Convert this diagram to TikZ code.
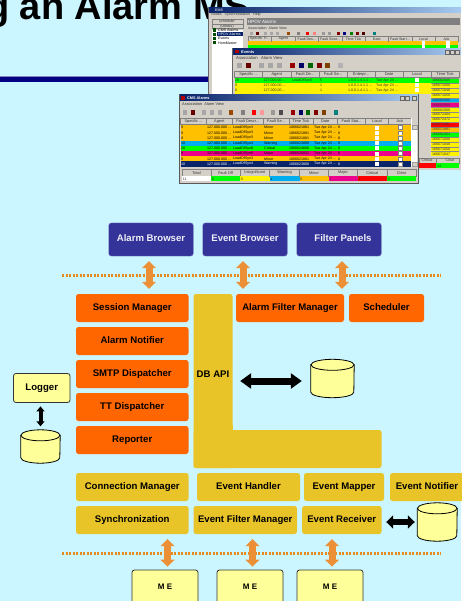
\documentclass[tikz,border=0pt]{standalone}
\usepackage{fontspec}
\setmainfont{Liberation Sans}
\usetikzlibrary{arrows.meta}

\definecolor{slidebg}{HTML}{CCF6FF}
\definecolor{navybox}{HTML}{333399}
\definecolor{orangebox}{HTML}{FF6600}
\definecolor{goldbox}{HTML}{E8C428}
\definecolor{paleyellow}{HTML}{FFFF99}
\definecolor{arroworange}{HTML}{EC9038}
\definecolor{dotorange}{HTML}{E58A1E}
\definecolor{wingray}{HTML}{D4D0C8}
\definecolor{winblue}{HTML}{0A246A}
\definecolor{winlight}{HTML}{A6CAF0}
\definecolor{roworange}{HTML}{FFC000}
\newcommand{\cutoff}{.{}.{}.}
\newcommand{\drawstore}[2]{
	\draw[storeline] ([yshift=-5.5pt]#1.north west) -- ([yshift=5.5pt]#1.south west) arc[start angle=180, end angle=360, x radius=#2pt, y radius=5.5pt] -- ([yshift=-5.5pt]#1.north east) -- cycle;
	\draw[storeline] ([yshift=-5.5pt]#1.north) ellipse [x radius=#2pt, y radius=5.5pt];
}

\tikzset{
	box/.style={rectangle, rounded corners=2.5pt, font=\fontsize{9.6}{11}\bfseries, inner sep=0pt, text height=7pt, text depth=2pt},
	browserbox/.style={box, fill=navybox, draw=navybox!70!white, text=white!92!navybox, minimum width=84.5pt, minimum height=33pt},
	orangenode/.style={box, fill=orangebox, minimum height=28pt},
	goldnode/.style={box, fill=goldbox, minimum height=28pt},
	yellownode/.style={box, fill=paleyellow, draw=black!80, line width=0.8pt},
	menode/.style={yellownode, minimum width=66pt, minimum height=34pt, font=\fontsize{8}{10}\bfseries},
	storebox/.style={rectangle, inner sep=0pt},
	storeline/.style={draw=black, line width=0.8pt, fill=paleyellow},
	orangearrow/.style={line width=7pt, color=arroworange, {Triangle[width=14pt,length=7pt]}-{Triangle[width=14pt,length=7pt]}},
	blackarrow/.style={line width=7pt, color=black, {Triangle[width=15pt,length=11pt]}-{Triangle[width=15pt,length=11pt]}},
	dotline/.style={line width=2.6pt, color=dotorange, dash pattern=on 2.4pt off 1.1pt},
	tiny/.style={font=\fontsize{3.6}{4}\selectfont, inner sep=0pt, text=black!80},
	headcell/.style={fill=wingray, draw=black!50, line width=0.3pt},
}

\begin{document}
\begin{tikzpicture}[x=1pt, y=-1pt]
	\useasboundingbox (0,0) rectangle (461,601);
	\fill[slidebg] (0,0) rectangle (461,601);

	% slide title and rule
	\node[anchor=base west, inner sep=0pt, font=\fontsize{38}{40}\bfseries] (title) at (-14,20) {g an Alarm MS};
	\fill[navybox!60!white] (0,76) rectangle (210,77);
	\fill[blue!50!black] (0,77) rectangle (210,82);

	% window at the back
	\fill[wingray] (208,7) rectangle (461,100);
	\draw[black!60, line width=0.6pt] (208.5,100) -- (208.5,7.5) -- (461,7.5);
	\shade[left color=winblue, right color=winlight] (209,8) rectangle (461,12.5);
	\node[tiny, anchor=west, text=white] (backtitle) at (215,10.3) {EMS};
	\node[tiny, anchor=west] (backmenu) at (211,15) {Nodes~~~Synchronization~~~Help};
	\fill[white] (212,30) rectangle (243,100);
	\draw[black!50, fill=wingray, line width=0.2pt] (212,19) rectangle (243,24.5);
	\draw[black!50, fill=wingray, line width=0.2pt] (212,24.5) rectangle (243,28);
	\node[tiny] (backsched) at (227,21.7) {scheduler};
	\node[tiny] (backutil) at (227,26.3) {(utilities)};
	\fill[winblue] (217,32) rectangle (243,36.5);
	\foreach \y/\name/\tcol [count=\i] in {30/CMS Alarms/black, 34.3/HPOV Alarms/white, 38.5/Events/black, 42.8/HomMaster/black} {
		\fill[black!70!green] (213,\y-1.6) rectangle (216,\y+1.6);
		\node[tiny, anchor=west, text=\tcol] (backlist\i) at (218,\y) {\name};
	}
	\fill[black!50] (247,18) rectangle (460,25.5);
	\node[tiny, anchor=west, text=white, font=\fontsize{4.5}{5}\selectfont] (backhpov) at (248,21.7) {HPOV Alarms};
	\node[tiny, anchor=west] (backassoc) at (248,27.8) {Association~~Alarm View};
	\foreach \x/\c in {251/black!35,257/red!40!black,265/black!35,271/black!35,277/black!35,288/orange!60!black,298/black!50,307/red,314/red!50,323/black!40,329/black!40,338/red!50!black,344/blue!50!black,351/green!50!black,357/red!50!black,363/red!30!black,374/teal} {
		\fill[\c] (\x-1.5,31.7) rectangle (\x+1.5,34.7);
	}
	\foreach \x/\xx/\t [count=\i] in {248/271.5/Specific Tr\cutoff, 271.5/295/Agent, 295/318.5/Fault Des\cutoff, 318.5/342/Fault Seve\cutoff, 342/365/Time Tick, 365/388.5/Date, 388.5/412/Fault Stat I\cutoff, 412/435/Local, 435/458/Ack} {
		\draw[headcell] (\x,36.5) rectangle (\xx,41);
		\node[tiny] (backhead\i) at ({(\x+\xx)/2},38.8) {\t};
		\fill[roworange] (\x,41) rectangle (\xx,45);
		\fill[green] (\x,45) rectangle (\xx,49);
	}
	\fill[white] (421.5,41.5) rectangle (425,48);
	\fill[white] (446,41.5) rectangle (449.5,48);

	% events window
	\fill[wingray] (232,48) rectangle (461,170);
	\draw[black!60, line width=0.6pt] (232.5,170) -- (232.5,48.5) -- (461,48.5);
	\shade[left color=winblue, right color=winlight] (233,49) rectangle (461,54.5);
	\node[tiny, anchor=west, text=white, font=\fontsize{4}{5}\bfseries] (evtitle) at (241,52) {Events};
	\fill[red!70!black] (235,50) rectangle (239,53.5);
	\node[tiny, anchor=west, font=\fontsize{4.2}{5}\selectfont] (evmenu) at (236,58.5) {Association~~~Alarm View};
	\foreach \x/\c in {239/black!35,248/red!40!black,261/black!35,270/black!35,279/black!35,292/red!60!black,301/blue!40!black,310/green!40!black,319/red!50!black,327/orange!50!black,340/black!30} {
		\fill[\c] (\x-2.5,63.5) rectangle (\x+2.5,68.5);
	}
	\foreach \x/\xx/\t [count=\i] in {234.5/262.5/Specific \cutoff, 262.5/291/Agent, 291/319/Fault De\cutoff, 319/347/Fault Se\cutoff, 347/375/Enterpr\cutoff, 375/403/Date, 403/431/Local, 431/459/Time Tick} {
		\draw[headcell] (\x,71) rectangle (\xx,77.5);
		\node[tiny, font=\fontsize{4}{5}\selectfont] (evhead\i) at ({(\x+\xx)/2},74.3) {\t};
	}
	\fill[green] (234.5,78) rectangle (431,83);
	\fill[yellow] (234.5,83) rectangle (431,94);
	\foreach \y/\txt/\n/\fd [count=\i] in {80.5/28/5/LoadOfSyn8, 85.4/0/1/{}, 90.2/0/1/{}} {
		\node[tiny, anchor=west] (evrowa\i) at (235,\y) {\txt};
		\node[tiny, anchor=west] (evrowb\i) at (263.5,\y) {127.000.00 ...};
		\node[tiny, anchor=west] (evrowc\i) at (292,\y) {\fd};
		\node[tiny, anchor=west] (evrowd\i) at (320,\y) {\n};
		\node[tiny, anchor=west] (evrowe\i) at (348,\y) {1.0.0.1.4.1.1 ...};
		\node[tiny, anchor=west] (evrowf\i) at (376,\y) {Tue Apr 24 ...};
		\fill[white] (415,\y-2) rectangle (419,\y+2);
	}
	\foreach \c/\t [count=\i from 0] in {green/166682045, yellow/166671000, yellow/166671048, yellow/166671050, cyan/166682080, magenta/166682088, yellow/166682080, yellow/166672404, yellow/166672472, red/166671461, roworange/166621881, green/166682404, yellow/166671000, yellow/166671048, yellow/166671050, yellow/166671047} {
		\fill[\c] (431,78+\i*4.9) rectangle (459,78+\i*4.9+4.9);
		\draw[black!45, line width=0.15pt] (431,78+\i*4.9) -- (459,78+\i*4.9);
		\node[tiny, anchor=west] (evtick\i) at (432,80.4+\i*4.9) {\t};
	}
	\draw[headcell] (419,158) rectangle (436,163.5);
	\draw[headcell] (436,158) rectangle (459,163.5);
	\node[tiny] (evcrit) at (427,160.7) {Critical};
	\node[tiny] (evclear) at (450,160.7) {Clear};
	\fill[red] (419,163.5) rectangle (436,168);
	\fill[green] (436,163.5) rectangle (459,168);
	\node[tiny, anchor=west] (evclearn) at (437,165.8) {14};
	\foreach \x in {447.5,452.5,457} {
		\draw[black!60, fill=wingray, line width=0.2pt] (\x-2,50) rectangle (\x+2,54);
	}

	% alarms window in front
	\fill[wingray] (179,94) rectangle (418.5,183);
	\draw[black!65, line width=0.6pt] (179.5,94.5) rectangle (418.3,183);
	\shade[left color=winblue, right color=winlight] (180,95) rectangle (418,100.5);
	\fill[red!70!black] (181,95.8) rectangle (185,99.6);
	\node[tiny, anchor=west, text=white, font=\fontsize{3.8}{5}\bfseries] (almtitle) at (187,97.8) {CMS Alarms};
	\foreach \x in {402,407.5,414} {
		\draw[black!60, fill=wingray, line width=0.2pt] (\x-2,95.7) rectangle (\x+2,99.7);
	}
	\node[tiny, anchor=west, font=\fontsize{3.9}{5}\selectfont] (almmenu) at (182,104.3) {Association~~Alarm View};
	\foreach \x/\c in {185/black!35,193/red!40!black,204/black!35,212/black!35,220/black!35,231/orange!60!black,243/black!50,254/red,262/red!40,273/black!40,281/black!70,293/red!60!black,301/blue!40!black,308/green!40!black,316/red!50!black,324/orange!50!black,336/teal} {
		\fill[\c] (\x-2.2,110.5) rectangle (\x+2.2,115.5);
	}
	\foreach \x/\xx/\t [count=\i] in {180.5/206.5/Specific \cutoff, 206.5/232/Agent, 232/263.5/Fault Descr\cutoff, 263.5/288.7/Fault Se\cutoff, 288.7/313/Time Tick, 313/337.5/Date, 337.5/365.5/Fault Stat\cutoff, 365.5/388.5/Local, 388.5/411/Ack} {
		\draw[headcell] (\x,118) rectangle (\xx,124.5);
		\node[tiny, font=\fontsize{3.9}{5}\selectfont] (almhead\i) at ({(\x+\xx)/2},121.3) {\t};
	}
	\foreach \c/\num/\desc/\sev/\tick/\tc [count=\i from 0] in {
		roworange/9/LoadOfSyn3/Minor/1066621881/black,
		roworange/9/LoadOfSyn3/Minor/1066621881/black,
		roworange/9/LoadOfSyn3/Minor/1066621881/black,
		cyan/10/LoadOfSyn4/Warning/1066623808/black,
		green/28/LoadOfSyn8/Critical/1066624688/black,
		magenta/9/LoadOfSyn6/Major/1066620832/black,
		roworange/9/LoadOfSyn3/Minor/1066621881/black,
		winblue/10/LoadOfSyn4/Warning/1066623808/white} {
		\fill[\c] (180.5,125+\i*5.2) rectangle (411,125+\i*5.2+5.2);
		\node[tiny, anchor=west, text=\tc] (rownum\i) at (181,127.6+\i*5.2) {\num};
		\node[tiny, anchor=west, text=\tc] (rowagent\i) at (207,127.6+\i*5.2) {127.000.000 ...};
		\node[tiny, anchor=west, text=\tc] (rowdesc\i) at (233,127.6+\i*5.2) {\desc};
		\node[tiny, anchor=west, text=\tc] (rowsev\i) at (264,127.6+\i*5.2) {\sev};
		\node[tiny, anchor=west, text=\tc] (rowtick\i) at (289,127.6+\i*5.2) {\tick};
		\node[tiny, anchor=west, text=\tc] (rowdate\i) at (314,127.6+\i*5.2) {Tue Apr 24 ...};
		\node[tiny, anchor=west, text=\tc] (rowstat\i) at (338,127.6+\i*5.2) {8};
		\fill[white] (375,125.6+\i*5.2) rectangle (379,129.6+\i*5.2);
		\draw[black!50, fill=white, line width=0.2pt] (398,125.6+\i*5.2) rectangle (402,129.6+\i*5.2);
	}
	\fill[white] (411,118) rectangle (417,167);
	\draw[black!40, fill=wingray, line width=0.2pt] (412,125) rectangle (417,129.5);
	\draw[black!40, fill=wingray, line width=0.2pt] (412,162) rectangle (417,166.5);
	\fill[wingray] (412,118) rectangle (417,125);
	\foreach \x/\xx/\t/\c/\v [count=\i] in {182/211/Total/white/11, 211/240/Fault Off/green/0, 240/269.5/Insignificant/yellow/0, 269.5/299.5/Warning/cyan/4, 299.5/328.5/Minor/roworange/6, 328.5/357.5/Major/magenta/1, 357.5/387/Critical/red/1, 387/416/Clear/green/0} {
		\draw[headcell] (\x,169.5) rectangle (\xx,176);
		\node[tiny, font=\fontsize{3.9}{5}\selectfont] (sumhead\i) at ({(\x+\xx)/2},172.8) {\t};
		\fill[\c] (\x,176) rectangle (\xx,181.5);
		\node[tiny, anchor=west] (sumval\i) at (\x+0.7,178.8) {\v};
	}

	% top browsers
	\node[browserbox] (alarmb) at (151,239.5) {Alarm Browser};
	\node[browserbox] (eventb) at (245,239.5) {Event Browser};
	\node[browserbox] (filterp) at (339,239.5) {\hspace*{8pt}Filter Panels};

	% separators
	\coordinate (dotA) at (62,275.5);
	\coordinate (dotB) at (441,275.5);
	\coordinate (dotC) at (62,553.5);
	\coordinate (dotD) at (441,553.5);
	\draw[dotline] (dotA) -- (dotB);
	\draw[dotline] (dotC) -- (dotD);

	% manager boxes
	\node[orangenode, minimum width=112.5pt] (session) at (132.25,308) {Session Manager};
	\node[orangenode, minimum width=112.5pt] (notifier) at (132.25,341) {Alarm Notifier};
	\node[orangenode, minimum width=112.5pt] (smtp) at (132.25,374) {SMTP Dispatcher};
	\node[orangenode, minimum width=112.5pt] (ttd) at (132.25,407) {TT Dispatcher};
	\node[orangenode, minimum width=112.5pt] (reporter) at (132.25,440) {Reporter};
	\node[orangenode, minimum width=108pt] (alarmfilter) at (290,308) {Alarm Filter Manager};
	\node[orangenode, minimum width=75pt] (scheduler) at (386.5,308) {Scheduler};

	% DB API block
	\node[goldnode, minimum width=39pt, minimum height=174pt] (dbapi) at (213,381) {};
	\node[goldnode, minimum width=188pt, minimum height=38pt] (dbfoot) at (287.5,449) {};
	\fill[goldbox] (193.5,425) rectangle (232.5,440);
	\node[font=\fontsize{9.6}{11}\bfseries, inner sep=0pt] (dbtext) at (213,374.5) {DB API};

	% lower boxes
	\node[goldnode, minimum width=112.5pt] (connmgr) at (132.25,487) {Connection Manager};
	\node[goldnode, minimum width=103pt] (evhandler) at (248.5,487) {Event Handler};
	\node[goldnode, minimum width=80pt] (evmapper) at (344,487) {Event Mapper};
	\node[goldnode, minimum width=74pt] (evnotifier) at (427,487) {Event Notifier};
	\node[goldnode, minimum width=112.5pt] (sync) at (132.25,520) {Synchronization};
	\node[goldnode, minimum width=103.5pt] (evfilter) at (245.25,520) {Event Filter Manager};
	\node[goldnode, minimum width=79.5pt] (evreceiver) at (341.75,520) {Event Receiver};

	% logger and stores
	\node[yellownode, minimum width=56.5pt, minimum height=29pt] (logger) at (41.75,388) {Logger};
	\node[storebox, minimum width=39pt, minimum height=33pt] (logstore) at (40.5,446.5) {};
	\node[storebox, minimum width=43pt, minimum height=38pt] (dbstore) at (332.5,378.5) {};
	\node[storebox, minimum width=39.5pt, minimum height=38pt] (evstore) at (437.25,522) {};
	\drawstore{logstore}{19.5}
	\drawstore{dbstore}{21.5}
	\drawstore{evstore}{19.75}

	% managed elements
	\node[menode] (me1) at (165,587) {M E};
	\node[menode] (me2) at (250,587) {M E};
	\node[menode] (me3) at (330,587) {M E};

	% arrows
	\draw[orangearrow, shorten <=5pt, shorten >=5pt] ([xshift=-2pt]alarmb.south) -- ([xshift=-2pt]alarmb.south |- session.north);
	\draw[orangearrow, shorten <=5pt, shorten >=5pt] ([xshift=-2pt]eventb.south) -- ([xshift=-2pt]eventb.south |- alarmfilter.north);
	\draw[orangearrow, shorten <=5pt, shorten >=5pt] ([xshift=3pt]filterp.south) -- ([xshift=3pt]filterp.south |- scheduler.north);
	\draw[orangearrow, shorten <=3pt, shorten >=5pt] ([xshift=2.5pt]me1.north) -- ([xshift=2.5pt]me1.north |- sync.south);
	\draw[orangearrow, shorten <=3pt, shorten >=5pt] ([xshift=2.5pt]me2.north) -- ([xshift=2.5pt]me2.north |- evfilter.south);
	\draw[orangearrow, shorten <=3pt, shorten >=5pt] ([xshift=2pt]me3.north) -- ([xshift=2pt]me3.north |- evreceiver.south);
	\draw[blackarrow, shorten <=7.5pt, shorten >=9pt] (dbapi.east) -- (dbapi.east -| dbstore.west);
	\draw[blackarrow, line width=4pt, {Triangle[width=8pt,length=5pt]}-{Triangle[width=8pt,length=5pt]}, shorten <=3.5pt, shorten >=3.5pt] (logstore.north |- logger.south) -- (logstore.north);
	\draw[blackarrow, line width=6pt, {Triangle[width=13pt,length=7pt]}-{Triangle[width=13pt,length=7pt]}, shorten <=4.5pt, shorten >=2.5pt] ([yshift=-2pt]evreceiver.east) -- ([yshift=-2pt]evreceiver.east -| evstore.west);
\end{tikzpicture}
\end{document}
